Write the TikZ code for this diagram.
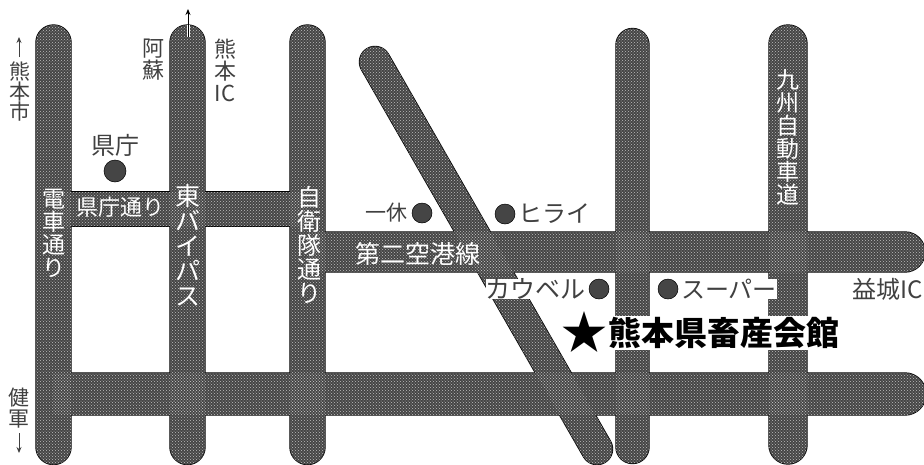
\documentclass[tikz,border=0pt]{standalone}
\usepackage{fontspec}
\setmainfont{Noto Sans CJK JP}
\usetikzlibrary{patterns,arrows.meta}
\definecolor{roadgray}{gray}{0.27}
\definecolor{inkgray}{gray}{0.25}
\newcommand{\roadshapes}[1]{%
  \path[#1] (36,447) -- (36,42.5) arc[start angle=180,end angle=360,radius=17.5] -- (71,447) arc[start angle=0,end angle=180,radius=17.5] -- cycle;
  \path[#1] (170,447) -- (170,42.5) arc[start angle=180,end angle=360,radius=17.5] -- (205,447) arc[start angle=0,end angle=180,radius=17.5] -- cycle;
  \path[#1] (290,447) -- (290,42.5) arc[start angle=180,end angle=360,radius=17.5] -- (325,447) arc[start angle=0,end angle=180,radius=17.5] -- cycle;
  \path[#1] (616,447) -- (616,45) arc[start angle=180,end angle=360,radius=16.5] -- (649,447) arc[start angle=0,end angle=180,radius=16.5] -- cycle;
  \path[#1] (769,445) -- (769,44) arc[start angle=180,end angle=360,radius=19] -- (807,445) arc[start angle=0,end angle=180,radius=19] -- cycle;
  \path[#1] (53,192) rectangle (308,226);
  \path[#1] (308,232) -- (905,232) arc[start angle=-90,end angle=90,radius=20] -- (308,272) -- cycle;
  \path[#1] (53,373) -- (905,373) arc[start angle=-90,end angle=90,radius=21] -- (53,415) -- cycle;
  \path[#1] (361.55,69.7) arc[start angle=150,end angle=330,radius=15.5] -- (610.45,441.3) arc[start angle=-30,end angle=150,radius=15.5] -- cycle;
}
\tikzset{
  x=1pt,y=-1pt,
  roadedge/.style={draw=black,line width=1.4pt},
  roadbody/.style={fill=roadgray},
  roaddots/.style={pattern=crosshatch dots,pattern color=white!75!black},
  wlabel/.style={text=white,align=center,inner sep=0pt,font=\fontsize{#1}{#1}\selectfont},
  blabel/.style={text=inkgray,align=center,inner sep=0pt,font=\fontsize{#1}{#1}\selectfont},
  haze/.style={fill=white,text=inkgray,inner sep=0pt,font=\fontsize{#1}{#1}\selectfont},
  spot/.style={circle,fill=roadgray,draw=black,line width=.5pt,minimum size=#1,inner sep=0pt},
  pointer/.style={-{Stealth[length=6pt,width=5pt]},line width=.9pt,draw=inkgray},
}
\begin{document}
\begin{tikzpicture}
\useasboundingbox (0,0) rectangle (924,464);
\begin{scope}
\clip (0,0) rectangle (924,464);
\roadshapes{roadedge}
\roadshapes{roadbody}
\roadshapes{roaddots}
\end{scope}
% upward arrow over the road
\coordinate (aTop) at (188,9);
\coordinate (aBot) at (188,37);
\coordinate (aMid) at (188,25);
\draw[white,line width=3pt] (aMid) -- (aBot);
\draw[pointer,draw=black] (aBot) -- (aTop);
% side arrows
\coordinate (kTop) at (19,37);
\coordinate (kBot) at (19,57);
\draw[pointer] (kBot) -- (kTop);
\coordinate (gTop) at (19,433);
\coordinate (gBot) at (19,453);
\draw[pointer] (gTop) -- (gBot);
% outside labels
\node[blabel=21] (kumamotoshi) at (20,92) {熊\\[-1pt]本\\[-1pt]市};
\node[blabel=22] (aso) at (153,60) {阿\\蘇};
\node[blabel=22] (kumamotoic) at (225,70) {熊\\本\\IC};
\node[blabel=24] (kencho) at (115,145) {県庁};
\node[spot=22pt] (kenchospot) at (115,171) {};
\node[blabel=21] (kengun) at (19,408) {健\\軍};
% road labels
\node[wlabel=22] (kenchodori) at (120,207) {県庁通り};
\node[wlabel=23] (densha) at (54,233) {電\\車\\通\\り};
\node[wlabel=25] (higashi) at (188,245) {東\\バ\\イ\\パ\\ス};
\node[wlabel=24] (jieitai) at (309,245) {自\\衛\\隊\\通\\り};
\node[wlabel=25] (daini) at (418,254) {第二空港線};
\node[wlabel=23] (kyushu) at (788,137) {九\\州\\自\\動\\車\\道};
% shops
\node[spot=20pt] (ikkyuspot) at (422,213) {};
\node[blabel=21,anchor=east] (ikkyu) at (408,213) {一休};
\node[spot=20pt] (hiraispot) at (505,214) {};
\node[blabel=24,anchor=west] (hirai) at (518,214) {ヒライ};
\node[haze=25,anchor=east] (kauberu) at (586,289) {カウベル};
\node[spot=20pt] (kauberuspot) at (599,289) {};
\node[spot=20pt] (superspot) at (668,289) {};
\node[haze=24,anchor=west] (super) at (681,289) {スーパー};
\node[blabel=24,anchor=east] (mashiki) at (923,289) {益城IC};
% destination
\node[fill=white,text=black,inner sep=1pt,font=\fontsize{33}{33}\selectfont\bfseries,anchor=west] (hall) at (607,333) {熊本県畜産会館};
\node[text=black,inner sep=0pt,font=\fontsize{46}{46}\selectfont,anchor=east] (star) at (608,332) {★};
\end{tikzpicture}
\end{document}
